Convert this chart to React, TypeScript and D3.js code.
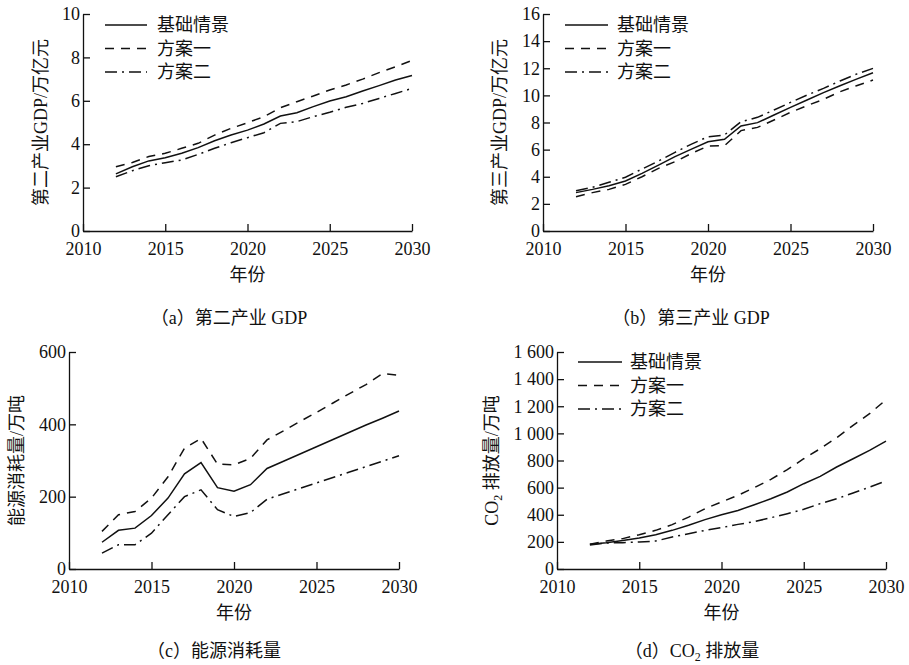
import React, { useEffect, useRef } from 'react';
import * as d3 from 'd3';

// years on the x axis
const years = [2012, 2013, 2014, 2015, 2016, 2017, 2018, 2019, 2020, 2021, 2022, 2023, 2024, 2025, 2026, 2027, 2028, 2029, 2030];
const xTicks = [2010, 2015, 2020, 2025, 2030];

// (a) 第二产业 GDP / 万亿元
const secondBase = [2.63, 2.96, 3.23, 3.38, 3.58, 3.84, 4.16, 4.42, 4.65, 4.93, 5.30, 5.45, 5.73, 5.99, 6.19, 6.45, 6.70, 6.96, 7.17];
const secondPlan1 = [2.96, 3.16, 3.43, 3.58, 3.81, 4.04, 4.42, 4.73, 4.99, 5.27, 5.68, 5.96, 6.22, 6.50, 6.73, 7.00, 7.30, 7.57, 7.86];
const secondPlan2 = [2.50, 2.78, 3.01, 3.15, 3.27, 3.53, 3.81, 4.07, 4.30, 4.53, 4.96, 5.04, 5.27, 5.47, 5.70, 5.88, 6.11, 6.34, 6.57];

// (b) 第三产业 GDP / 万亿元
const thirdBase = [2.83, 3.07, 3.34, 3.69, 4.25, 4.86, 5.48, 6.04, 6.58, 6.76, 7.74, 7.99, 8.55, 9.12, 9.66, 10.20, 10.71, 11.20, 11.67];
const thirdPlan1 = [2.53, 2.83, 3.07, 3.44, 4.00, 4.62, 5.11, 5.72, 6.27, 6.29, 7.40, 7.64, 8.18, 8.75, 9.24, 9.71, 10.27, 10.71, 11.13];
const thirdPlan2 = [2.97, 3.22, 3.59, 3.96, 4.57, 5.16, 5.80, 6.41, 6.95, 7.08, 8.06, 8.38, 8.92, 9.48, 10.02, 10.52, 11.06, 11.57, 11.99];

// (c) 能源消耗量 / 万吨
const energyBase = [74, 107, 113, 148, 196, 263, 294, 225, 215, 233, 278, 298, 318, 338, 358, 378, 398, 417, 437];
const energyPlan1 = [104, 150, 159, 196, 255, 334, 361, 290, 288, 306, 357, 382, 408, 433, 459, 485, 510, 540, 536];
const energyPlan2 = [44, 67, 67, 99, 150, 200, 219, 164, 145, 156, 193, 208, 223, 238, 253, 268, 283, 298, 313];

// (d) CO2 排放量 / 万吨
const co2Base = [182, 194, 211, 228, 253, 285, 322, 364, 400, 432, 474, 518, 568, 629, 683, 752, 813, 875, 943];
const co2Plan1 = [182, 206, 224, 253, 285, 327, 383, 445, 494, 543, 600, 661, 732, 813, 887, 968, 1059, 1145, 1248];
const co2Plan2 = [177, 192, 194, 199, 206, 236, 260, 285, 305, 329, 349, 378, 408, 440, 482, 518, 560, 604, 649];

const seriesNames = ['基础情景', '方案一', '方案二'];
const dashes = ['none', '9,7', '12,5,2,5'];

const FONT = "'Liberation Serif', 'Times New Roman', 'Noto Sans CJK SC', serif";

export default function App() {
    const svgRef = useRef<SVGSVGElement>(null);

    useEffect(() => {
        document.body.style.margin = '0';
        if (!svgRef.current) return;
        const svg = d3.select(svgRef.current);
        svg.selectAll('*').remove();

        const panels = [
            { l: 83, r: 412, t: 14, b: 231, max: 10, yTicks: [0, 2, 4, 6, 8, 10], series: [secondBase, secondPlan1, secondPlan2],
              yLabel: '第二产业GDP/万亿元', yLabelX: 41, tag: 'a', caption: '第二产业 GDP', capX: 229, capDy: 87,
              legend: { x1: 105, x2: 147, tx: 157, y: 25 } },
            { l: 543, r: 873, t: 14, b: 231, max: 16, yTicks: [0, 2, 4, 6, 8, 10, 12, 14, 16], series: [thirdBase, thirdPlan1, thirdPlan2],
              yLabel: '第三产业GDP/万亿元', yLabelX: 500, tag: 'b', caption: '第三产业 GDP', capX: 691, capDy: 87,
              legend: { x1: 565, x2: 608, tx: 617, y: 25 } },
            { l: 69, r: 399, t: 352, b: 569, max: 600, yTicks: [0, 200, 400, 600], series: [energyBase, energyPlan1, energyPlan2],
              yLabel: '能源消耗量/万吨', yLabelX: 17, tag: 'c', caption: '能源消耗量', capX: 214, capDy: 82,
              legend: null },
            { l: 557, r: 886, t: 352, b: 569, max: 1600, yTicks: [0, 200, 400, 600, 800, 1000, 1200, 1400, 1600], series: [co2Base, co2Plan1, co2Plan2],
              yLabel: 'CO2', yLabelX: 492, tag: 'd', caption: 'CO2', capX: 692, capDy: 82,
              legend: { x1: 578, x2: 622, tx: 630, y: 362 } },
        ];

        const fmt = (v: number) => v >= 1000 ? `${Math.floor(v / 1000)} ${String(v % 1000).padStart(3, '0')}` : String(v);

        panels.forEach(p => {
            const x = d3.scaleLinear().domain([2010, 2030]).range([p.l, p.r]);
            const y = d3.scaleLinear().domain([0, p.max]).range([p.b, p.t]);
            const g = svg.append('g');

            const xa = g.append('g')
                .attr('transform', `translate(0,${p.b})`)
                .call(d3.axisBottom(x).tickValues(xTicks).tickFormat(d3.format('d')).tickSize(-7).tickSizeOuter(0).tickPadding(11));
            const ya = g.append('g')
                .attr('transform', `translate(${p.l},0)`)
                .call(d3.axisLeft(y).tickValues(p.yTicks).tickFormat(d => fmt(+d)).tickSize(-7).tickSizeOuter(0).tickPadding(3));
            [xa, ya].forEach(a => {
                a.attr('font-family', FONT);
                a.selectAll('text').attr('font-family', FONT).attr('font-size', 18).attr('fill', '#111');
                a.selectAll('line,path').attr('stroke', '#111').attr('stroke-width', 1.3);
            });

            const line = d3.line<number>()
                .x((_, i) => x(years[i]))
                .y(d => y(d));

            p.series.forEach((s, i) => {
                g.append('path')
                    .datum(s)
                    .attr('fill', 'none')
                    .attr('stroke', '#111')
                    .attr('stroke-width', 1.5)
                    .attr('stroke-dasharray', dashes[i])
                    .attr('d', line);
            });

            // legend
            if (p.legend) {
                seriesNames.forEach((name, i) => {
                    const ly = p.legend!.y + i * 23.5;
                    g.append('line')
                        .attr('x1', p.legend!.x1).attr('x2', p.legend!.x2)
                        .attr('y1', ly).attr('y2', ly)
                        .attr('stroke', '#111').attr('stroke-width', 1.5)
                        .attr('stroke-dasharray', dashes[i]);
                    g.append('text')
                        .attr('x', p.legend!.tx).attr('y', ly).attr('dy', '0.36em')
                        .attr('font-family', FONT).attr('font-size', 18).attr('fill', '#111')
                        .text(name);
                });
            }

            // y label
            const yl = g.append('text')
                .attr('transform', `translate(${p.yLabelX},${(p.t + p.b) / 2}) rotate(-90)`)
                .attr('text-anchor', 'middle').attr('dy', '0.36em')
                .attr('font-family', FONT).attr('font-size', 18).attr('fill', '#111');
            if (p.yLabel === 'CO2') {
                yl.append('tspan').text('CO');
                yl.append('tspan').attr('font-size', 12).attr('dy', 4).text('2');
                yl.append('tspan').attr('dy', -4).text(' 排放量/万吨');
            } else {
                yl.text(p.yLabel);
            }

            // x label
            g.append('text')
                .attr('x', (p.l + p.r) / 2).attr('y', p.b + 44).attr('dy', '0.36em')
                .attr('text-anchor', 'middle')
                .attr('font-family', FONT).attr('font-size', 18).attr('fill', '#111')
                .text('年份');

            // caption
            const cap = g.append('text')
                .attr('x', p.capX).attr('y', p.b + p.capDy).attr('dy', '0.36em')
                .attr('text-anchor', 'middle')
                .attr('font-family', FONT).attr('font-size', 18).attr('fill', '#111');
            cap.append('tspan').text(`（${p.tag}）`);
            if (p.caption === 'CO2') {
                cap.append('tspan').text('CO');
                cap.append('tspan').attr('font-size', 12).attr('dy', 4).text('2');
                cap.append('tspan').attr('dy', -4).text(' 排放量');
            } else {
                cap.append('tspan').text(p.caption);
            }
        });
    }, []);

    return (
        <svg ref={svgRef} width={909} height={665} style={{ display: 'block', background: '#fff' }} />
    );
}
